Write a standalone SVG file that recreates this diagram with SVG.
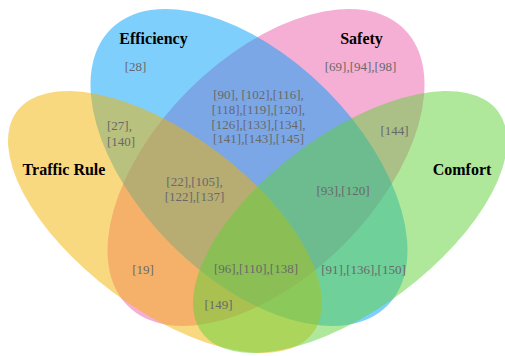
<svg xmlns="http://www.w3.org/2000/svg" width="505" height="356" viewBox="0 0 505 356">
<style>
.set{fill-opacity:0.5;stroke:none}
.title{font-family:"Liberation Serif","Times New Roman",serif;font-weight:bold;font-size:16px;fill:#000;text-anchor:middle}
.num{font-family:"Liberation Serif","Times New Roman",serif;font-size:13px;fill:#686868;text-anchor:middle}
</style>
<rect width="505" height="356" fill="#fff"/>
<g id="safety">
<ellipse class="set" cx="266" cy="167.5" rx="195.6" ry="109.5" transform="rotate(-45 266 167.5)" fill="#ED5FA9"/>
<text class="title" x="361.5" y="44">Safety</text>
</g>
<g id="efficiency">
<ellipse class="set" cx="249" cy="167.5" rx="195.6" ry="109.5" transform="rotate(45 249 167.5)" fill="#009FF9"/>
<text class="title" x="153.5" y="44">Efficiency</text>
</g>
<g id="traffic-rule">
<ellipse class="set" cx="165" cy="222" rx="184.8" ry="87.5" transform="rotate(36.8 165 222)" fill="#F3B300"/>
<text class="title" x="64" y="175">Traffic Rule</text>
</g>
<g id="comfort">
<ellipse class="set" cx="350" cy="222" rx="184.8" ry="87.5" transform="rotate(-36.8 350 222)" fill="#5FD137"/>
<text class="title" x="462" y="175">Comfort</text>
</g>
<g id="region-labels">
<text class="num" x="135.5" y="71">[28]</text>
<text class="num" x="360.5" y="71">[69],[94],[98]</text>
<text class="num" x="258.5" y="99">[90], [102],[116],</text>
<text class="num" x="258.5" y="114">[118],[119],[120],</text>
<text class="num" x="258.5" y="128.5">[126],[133],[134],</text>
<text class="num" x="258.5" y="143">[141],[143],[145]</text>
<text class="num" x="107" y="130" style="text-anchor:start">[27],</text>
<text class="num" x="107" y="145.5" style="text-anchor:start">[140]</text>
<text class="num" x="394.5" y="135">[144]</text>
<text class="num" x="194.5" y="185.5">[22],[105],</text>
<text class="num" x="194.5" y="200.5">[122],[137]</text>
<text class="num" x="343" y="195">[93],[120]</text>
<text class="num" x="143" y="274">[19]</text>
<text class="num" x="256" y="273">[96],[110],[138]</text>
<text class="num" x="363.5" y="274">[91],[136],[150]</text>
<text class="num" x="218.5" y="308.5">[149]</text>
</g>
</svg>
